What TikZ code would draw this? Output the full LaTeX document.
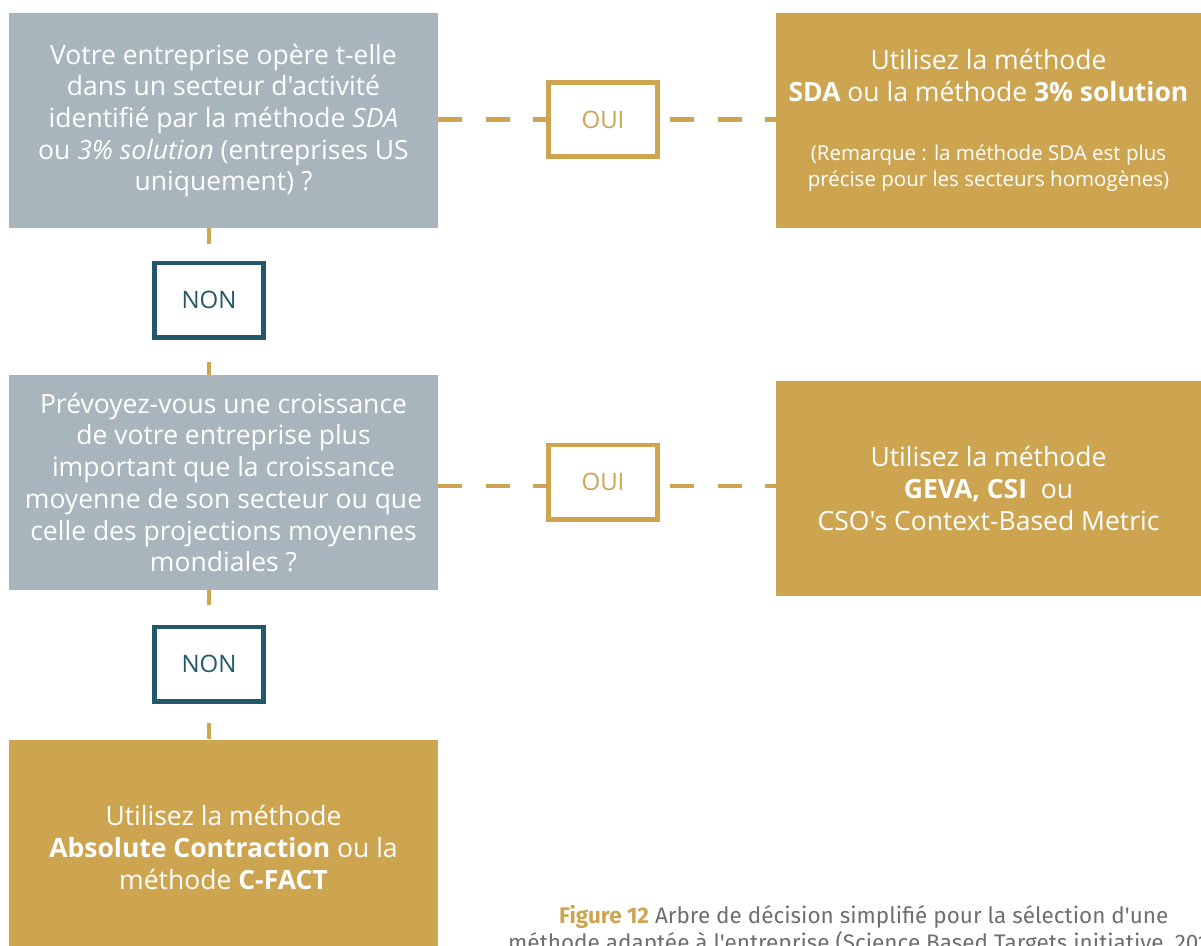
\documentclass[tikz,border=0pt]{standalone}
\usepackage{fontspec}
\newfontfamily\bodyfont{Open Sans}
\newfontfamily\capfont{Fira Sans}
\definecolor{gold}{HTML}{CDA450}
\definecolor{slate}{HTML}{A9B5BD}
\definecolor{teal}{HTML}{225869}
\definecolor{capgray}{HTML}{6E6E6E}
\tikzset{
  box/.style={inner sep=0pt, outer sep=0pt, minimum width=429pt, minimum height=215pt,
    text=white, align=center, font=\bodyfont\fontsize{26.5}{31.7}\selectfont},
  qbox/.style={box, fill=slate},
  abox/.style={box, fill=gold},
  ansbox/.style={draw, line width=4.7pt, fill=white, minimum width=109.5pt, minimum height=74.3pt,
    inner sep=0pt, font=\bodyfont\fontsize{24}{30}\selectfont},
  ouibox/.style={ansbox, draw=gold, text=gold},
  nonbox/.style={ansbox, draw=teal, text=teal},
  link/.style={draw=gold, line width=4.8pt},
  captext/.style={anchor=base west, inner sep=0pt, text=capgray, font=\capfont\fontsize{22.5}{27}\selectfont},
}
\begin{document}
\begin{tikzpicture}[x=1pt,y=-1pt]
\useasboundingbox (0,0) rectangle (1201,945);
\clip (0,0) rectangle (1201,945);

% questions
\node[qbox] (q1) at (223.5,120.5) {Votre entreprise opère t-elle\\dans un secteur d'activité\\identifié par la méthode \textit{SDA}\\ou \textit{3\% solution} (entreprises US\\uniquement) ?};
\node[qbox] (q2) at (223.5,482.5) {Prévoyez-vous une croissance\\de votre entreprise plus\\important que la croissance\\moyenne de son secteur ou que\\celle des projections moyennes\\mondiales ?};

% answers
\node[abox, minimum width=425pt] (r1) at (988.5,120.5) {Utilisez la méthode\\\textbf{SDA} ou la méthode \textbf{3\% solution}\\[27.3pt]{\fontsize{20.5}{26}\selectfont (Remarque : la méthode SDA est plus}\\[-5.7pt]{\fontsize{20.5}{26}\selectfont précise pour les secteurs homogènes)}};
\node[abox, minimum width=425pt] (r2) at (988.5,488.5) {Utilisez la méthode\\\textbf{GEVA, CSI}\ \ ou\\CSO's Context-Based Metric};
\node[abox] (r3) at (223.5,847.5) {Utilisez la méthode\\\textbf{Absolute Contraction} ou la\\méthode \textbf{C-FACT}};

% yes / no boxes
\node[ouibox] (o1) at (603,119.6) {OUI};
\node[ouibox] (o2) at (603,482) {OUI};
\node[nonbox] (n1) at (209,300) {NON};
\node[nonbox] (n2) at (209,664) {NON};
\coordinate (h2) at (603,486);

% connectors
\draw[link, dash pattern=on 24pt off 23.5pt] (q1.east |- o1.west) -- (o1.west);
\draw[link, dash pattern=on 24pt off 23.5pt, dash phase=37.5pt] (o1.east) -- (r1.west |- o1.east);
\draw[link, dash pattern=on 24pt off 23.5pt] (q2.east |- h2) -- (o2.west |- h2);
\draw[link, dash pattern=on 24pt off 23.5pt, dash phase=37.5pt] (o2.east |- h2) -- (r2.west |- h2);

\draw[link, dash pattern=on 16pt off 40pt] (q1.south -| n1.north) -- (n1.north);
\draw[link, dash pattern=on 13pt off 22pt, dash phase=13pt] (n1.south) -- (q2.north -| n1.south);
\draw[link, dash pattern=on 15pt off 40pt] (q2.south -| n2.north) -- (n2.north);
\draw[link, dash pattern=on 16pt off 19pt, dash phase=16pt] (n2.south) -- (r3.north -| n2.south);

% caption
\node[captext] (cap1) at (559,923) {\textcolor{gold}{\textbf{Figure 12}} Arbre de décision simplifié pour la sélection d'une};
\node[captext] (cap2) at (508,950) {méthode adaptée à l'entreprise (Science Based Targets initiative, 2019)};
\end{tikzpicture}
\end{document}
